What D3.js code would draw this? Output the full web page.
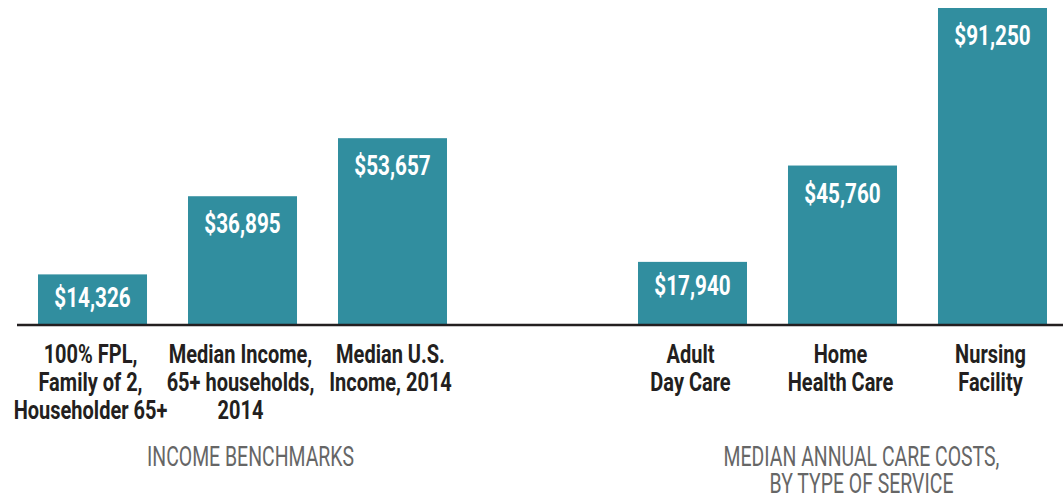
<!DOCTYPE html>
<html>
<head>
<meta charset="utf-8">
<script src="https://cdn.jsdelivr.net/npm/d3@7"></script>
<style>
  body { margin: 0; background: #fff; }
  text { font-family: Roboto, "Noto Sans", sans-serif; }
</style>
</head>
<body>
<div id="chart"></div>
<script>
// data
let keys = ['fpl', 'medInc65', 'medUS', 'gap', 'adc', 'hhc', 'nf'];
let values = [14326, 36895, 53657, null, 17940, 45760, 91250];
let labels = [
    ['100% FPL,', 'Family of 2,', 'Householder 65+'],
    ['Median Income,', '65+ households,', '2014'],
    ['Median U.S.', 'Income, 2014'],
    [],
    ['Adult', 'Day Care'],
    ['Home', 'Health Care'],
    ['Nursing', 'Facility']
];
let groupTitles = [
    {lines: ['INCOME BENCHMARKS'], at: ['fpl', 'medUS']},
    {lines: ['MEDIAN ANNUAL CARE COSTS,', 'BY TYPE OF SERVICE'], at: ['adc', 'nf']}
];

let width = 1063, height = 496;
let baseY = 324;

let svg = d3.select('#chart').append('svg')
    .attr('width', width)
    .attr('height', height);

let x = d3.scaleBand()
    .domain(keys)
    .range([17.5, 1067.5])
    .paddingInner(0.2733)
    .paddingOuter(0.1367);

let y = d3.scaleLinear()
    .domain([0, 91250])
    .range([baseY, 8]);

let fmt = d3.format('$,');
let cx = k => x(k) + x.bandwidth() / 2;

let data = keys.map((k, i) => ({key: k, value: values[i], label: labels[i]}))
    .filter(d => d.value != null);

svg.selectAll('.bar')
    .data(data)
    .enter().append('rect')
    .attr('class', 'bar')
    .attr('x', d => x(d.key))
    .attr('width', x.bandwidth())
    .attr('y', d => y(d.value))
    .attr('height', d => baseY - y(d.value))
    .attr('fill', '#318e9f');

// condensed look: squeeze text horizontally
svg.selectAll('.val')
    .data(data)
    .enter().append('text')
    .attr('class', 'val')
    .attr('transform', d => {
        let h = baseY - y(d.value);
        let ty = y(d.value) + (h < 70 ? 33 : 37);
        return `translate(${cx(d.key)},${ty}) scale(0.74,1)`;
    })
    .attr('text-anchor', 'middle')
    .attr('fill', '#fff')
    .style('font-size', '28px')
    .style('font-weight', 'bold')
    .text(d => fmt(d.value));

// baseline
svg.append('line')
    .attr('x1', 17).attr('x2', width)
    .attr('y1', baseY + 1).attr('y2', baseY + 1)
    .attr('stroke', '#231f20')
    .attr('stroke-width', 2.5);

// category labels
let cat = svg.selectAll('.cat')
    .data(data)
    .enter().append('text')
    .attr('class', 'cat')
    .attr('transform', d => `translate(${cx(d.key) - 2},0) scale(0.8,1)`)
    .attr('text-anchor', 'middle')
    .attr('fill', '#231f20')
    .style('font-size', '25px')
    .style('font-weight', 'bold');

cat.selectAll('tspan')
    .data(d => d.label)
    .enter().append('tspan')
    .attr('x', 0)
    .attr('y', (t, i) => 363 + i * 28)
    .text(t => t);

// group titles, set a little right of the group's middle
let shift = [8, 19];
let gt = svg.selectAll('.group')
    .data(groupTitles)
    .enter().append('text')
    .attr('class', 'group')
    .attr('transform', (g, i) => `translate(${(x(g.at[0]) + x(g.at[1]) + x.bandwidth()) / 2 + shift[i]},0) scale(0.72,1)`)
    .attr('text-anchor', 'middle')
    .attr('fill', '#666')
    .style('font-size', '27px');

gt.selectAll('tspan')
    .data(g => g.lines)
    .enter().append('tspan')
    .attr('x', 0)
    .attr('y', (t, i) => 466 + i * 27)
    .text(t => t);
</script>
</body>
</html>
